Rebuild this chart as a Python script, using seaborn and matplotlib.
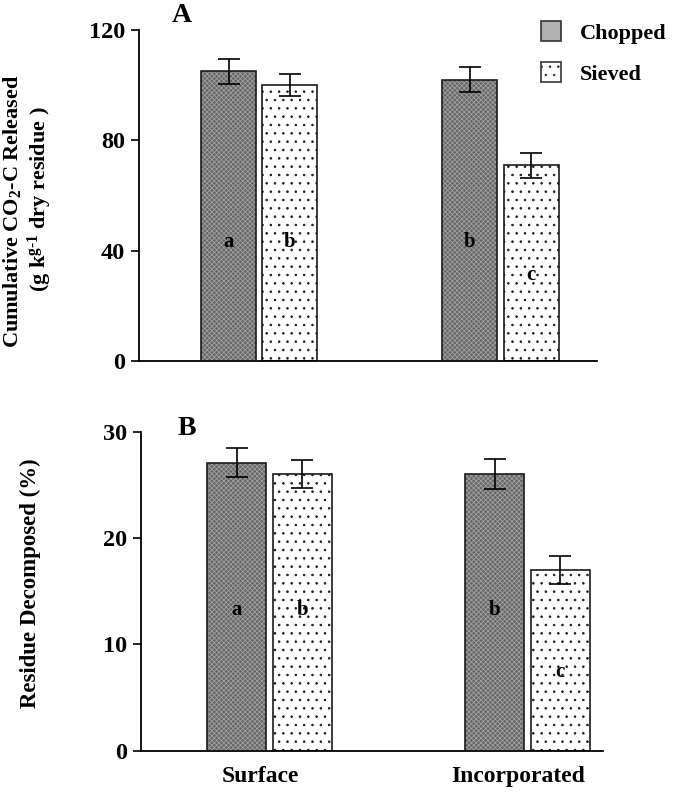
import pandas as pd
import matplotlib
matplotlib.use("Agg")
import matplotlib.pyplot as plt
import matplotlib.transforms as mtransforms
from matplotlib.patches import Patch, Rectangle
import seaborn as sns

# data
placements = ["Surface", "Incorporated"]
treatments = ["Chopped", "Sieved"]

co2_chopped = [105, 102]
co2_sieved = [100, 71]
co2_err_chopped = [4.5, 4.5]
co2_err_sieved = [4.0, 4.5]

dec_chopped = [27.1, 26.0]
dec_sieved = [26.0, 17.0]
dec_err_chopped = [1.4, 1.4]
dec_err_sieved = [1.3, 1.3]

# significance letters (Surface-Chopped, Surface-Sieved, Incorp-Chopped, Incorp-Sieved)
letters = ["a", "b", "b", "c"]
letter_y_a = [43, 43, 43, 31]
letter_y_b = [13.2, 13.2, 13.2, 7.4]

sns.set_theme(style="ticks")
plt.rcParams["font.family"] = ["Liberation Serif", "DejaVu Serif"]
plt.rcParams["font.weight"] = "bold"
plt.rcParams["text.color"] = "black"
plt.rcParams["axes.labelcolor"] = "black"
plt.rcParams["xtick.color"] = "black"
plt.rcParams["ytick.color"] = "black"
plt.rcParams["mathtext.fontset"] = "custom"
plt.rcParams["mathtext.rm"] = "Liberation Serif:bold"
plt.rcParams["mathtext.it"] = "Liberation Serif:bold"
plt.rcParams["mathtext.bf"] = "Liberation Serif:bold"
plt.rcParams["hatch.linewidth"] = 0.6


def make_df(chopped, sieved, err_c, err_s):
    rows = []
    for i, p in enumerate(placements):
        rows.append({"Placement": p, "Treatment": "Chopped", "value": chopped[i], "err": err_c[i]})
        rows.append({"Placement": p, "Treatment": "Sieved", "value": sieved[i], "err": err_s[i]})
    return pd.DataFrame(rows)


def draw_panel(ax, df, letter_y):
    sns.barplot(data=df, x="Placement", y="value", hue="Treatment",
                order=placements, hue_order=treatments,
                palette={"Chopped": "#666666", "Sieved": "white"},
                width=0.507, gap=0.1, errorbar=None, legend=False, ax=ax)
    bars = sorted(ax.patches, key=lambda b: b.get_x())
    order = [(p, t) for p in placements for t in treatments]
    for b, (p, t) in zip(bars, order):
        if t == "Chopped":
            # light checker texture on dark grey, outline drawn on top
            b.set_hatch("xxxxxxx")
            b.set_edgecolor("#a0a0a0")
            b.set_linewidth(0)
            ax.add_patch(Rectangle((b.get_x(), 0), b.get_width(), b.get_height(),
                                   fill=False, edgecolor="#1a1a1a", linewidth=1.2, zorder=3))
        else:
            b.set_hatch("..")
            b.set_edgecolor("#1a1a1a")
            b.set_linewidth(1.2)
    xs = [b.get_x() + b.get_width() / 2 for b in bars]
    vals = [df[(df.Placement == p) & (df.Treatment == t)]["value"].iloc[0] for p, t in order]
    errs = [df[(df.Placement == p) & (df.Treatment == t)]["err"].iloc[0] for p, t in order]
    ax.errorbar(xs, vals, yerr=errs, fmt="none", ecolor="black",
                elinewidth=1.2, capsize=8, capthick=1.2, zorder=5)
    for x, y, s in zip(xs, letter_y, letters):
        ax.text(x, y, s, ha="center", va="center", fontsize=15, fontweight="bold", zorder=6)
    sns.despine(ax=ax)
    for sp in ["left", "bottom"]:
        ax.spines[sp].set_color("black")
        ax.spines[sp].set_linewidth(1.3)
    ax.tick_params(axis="y", direction="out", length=6, width=1.2, labelsize=17.5, pad=4)
    ax.tick_params(axis="x", length=0)
    ax.set_xlabel("")
    ax.set_ylabel("")


fig = plt.figure(figsize=(6.76, 7.92), dpi=100)
ax_a = fig.add_axes([0.2056, 0.5442, 0.6775, 0.4179])
ax_b = fig.add_axes([0.2086, 0.0521, 0.6834, 0.4028])

df_a = make_df(co2_chopped, co2_sieved, co2_err_chopped, co2_err_sieved)
df_b = make_df(dec_chopped, dec_sieved, dec_err_chopped, dec_err_sieved)

draw_panel(ax_a, df_a, letter_y_a)
ax_a.set_ylim(0, 120)
ax_a.set_yticks([0, 40, 80, 120])
ax_a.set_xlim(-0.498, 1.40)
ax_a.set_xticklabels([])

draw_panel(ax_b, df_b, letter_y_b)
ax_b.set_ylim(0, 30)
ax_b.set_yticks([0, 10, 20, 30])
ax_b.set_xlim(-0.497, 1.292)
ax_b.tick_params(axis="x", labelsize=17, pad=11)
shift = mtransforms.ScaledTranslation(-9 / 100, 0, fig.dpi_scale_trans)
for lbl in ax_b.get_xticklabels():
    lbl.set_transform(lbl.get_transform() + shift)
    lbl.set_fontweight("bold")

for lbl in ax_a.get_yticklabels() + ax_b.get_yticklabels():
    lbl.set_fontweight("bold")

# axis titles
fig.text(12 / 676, 1 - 211 / 792, r"Cumulative CO$_2$-C Released",
         rotation=90, ha="center", va="center", fontsize=16, fontweight="bold")
fig.text(40 / 676, 1 - 199 / 792, r"(g k$^{g\text{-}1}$ dry residue )",
         rotation=90, ha="center", va="center", fontsize=16, fontweight="bold")
fig.text(30 / 676, 1 - 583 / 792, "Residue Decomposed (%)",
         rotation=90, ha="center", va="center", fontsize=16.5, fontweight="bold")

# panel letters
fig.text(182 / 676, 1 - 16 / 792, "A", ha="center", va="center", fontsize=20, fontweight="bold")
fig.text(187 / 676, 1 - 429 / 792, "B", ha="center", va="center", fontsize=20, fontweight="bold")

handles = [Patch(facecolor="#b0b0b0", edgecolor="#333333", linewidth=1.2),
           Patch(facecolor="white", edgecolor="#333333", hatch="..", linewidth=1.2)]
fig.legend(handles, treatments, loc="upper left", bbox_to_anchor=(541 / 676, 1 - 21 / 792),
           frameon=False, handlelength=0.9, handleheight=1.0,
           handletextpad=0.85, labelspacing=0.85, borderpad=0, borderaxespad=0,
           prop={"weight": "bold", "size": 16})

fig.savefig("out.png", dpi=100)
